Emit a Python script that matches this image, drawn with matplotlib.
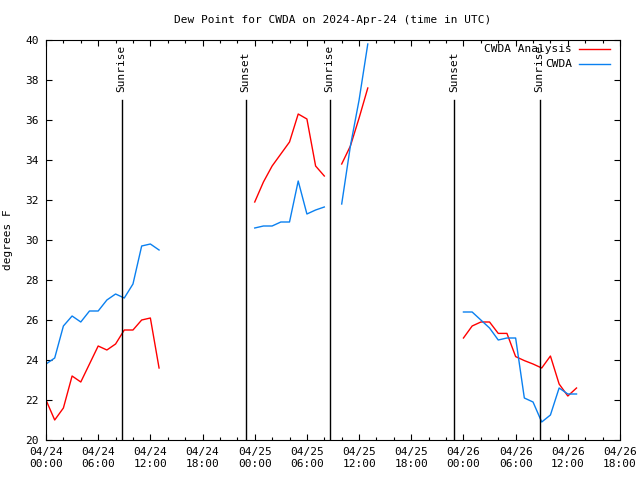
import numpy as np
import matplotlib
matplotlib.use("Agg")
import matplotlib.pyplot as plt
from matplotlib.ticker import MultipleLocator

plt.rcParams['font.family'] = ['DejaVu Sans Mono']
plt.rcParams['font.size'] = 8

# hours since 2024-04-24 00:00 UTC, hourly observations per segment
ana_starts = [0, 24, 34, 48]
ana_vals = [
    [22.0, 21.0, 21.6, 23.2, 22.9, 23.8, 24.7, 24.5, 24.8, 25.5, 25.5, 26.0, 26.1, 23.6],
    [31.9, 32.9, 33.7, 34.3, 34.9, 36.3, 36.05, 33.7, 33.2],
    [33.8, 34.7, 36.1, 37.6],
    [25.1, 25.7, 25.9, 25.9, 25.33, 25.33, 24.17, 23.97, 23.8, 23.6, 24.2, 22.8, 22.2, 22.6],
]
obs_starts = [0, 24, 34, 48]
obs_vals = [
    [23.8, 24.1, 25.7, 26.2, 25.9, 26.45, 26.45, 27.0, 27.3, 27.1, 27.8, 29.7, 29.8, 29.5],
    [30.6, 30.7, 30.7, 30.9, 30.9, 32.95, 31.3, 31.5, 31.65],
    [31.8, 34.7, 37.0, 39.8],
    [26.4, 26.4, 26.0, 25.6, 25.0, 25.1, 25.1, 22.1, 21.9, 20.9, 21.25, 22.6, 22.3, 22.3],
]

# sunrise / sunset times (hours since start)
sun_hours = [8.7, 22.96, 32.6, 46.96, 56.75]
sun_labels = ['Sunrise', 'Sunset', 'Sunrise', 'Sunset', 'Sunrise']

xtick_labels = ['04/24\n00:00', '04/24\n06:00', '04/24\n12:00', '04/24\n18:00',
                '04/25\n00:00', '04/25\n06:00', '04/25\n12:00', '04/25\n18:00',
                '04/26\n00:00', '04/26\n06:00', '04/26\n12:00', '04/26\n18:00']

red = '#ff0000'
blue = '#0a80f0'

fig = plt.figure(figsize=(6.4, 4.8), dpi=100)
ax = fig.add_axes([46 / 640, 40 / 480, 574 / 640, 400 / 480])

for i, (s, v) in enumerate(zip(ana_starts, ana_vals)):
    ax.plot(np.arange(s, s + len(v)), v, color=red, lw=1,
            label='CWDA Analysis' if i == 0 else None)
for i, (s, v) in enumerate(zip(obs_starts, obs_vals)):
    ax.plot(np.arange(s, s + len(v)), v, color=blue, lw=1,
            label='CWDA' if i == 0 else None)

for h, lab in zip(sun_hours, sun_labels):
    ax.plot([h, h], [20, 37], color='black', lw=1)
    ax.text(h, 37.4, lab, rotation=90, ha='center', va='bottom')

ax.set_xlim(0, 66)
ax.set_ylim(20, 40)
ax.set_xticks(np.arange(0, 67, 6))
ax.set_xticklabels(xtick_labels)
ax.xaxis.set_minor_locator(MultipleLocator(2))
ax.set_yticks(np.arange(20, 41, 2))
ax.tick_params(which='both', direction='in', top=True, right=True, width=0.8)
ax.tick_params(which='major', length=4, pad=5)
ax.tick_params(which='minor', length=2)
for sp in ax.spines.values():
    sp.set_linewidth(0.8)

ax.set_title('Dew Point for CWDA on 2024-Apr-24 (time in UTC)', fontsize=8, pad=12)
ax.set_ylabel('degrees F', labelpad=9)

ax.legend(loc='upper right', bbox_to_anchor=(0.99, 1.0), frameon=False,
          markerfirst=False, handlelength=2.8, borderaxespad=0.3,
          labelspacing=0.45, handletextpad=0.6, borderpad=0.1)

fig.savefig('out.png', dpi=100)
